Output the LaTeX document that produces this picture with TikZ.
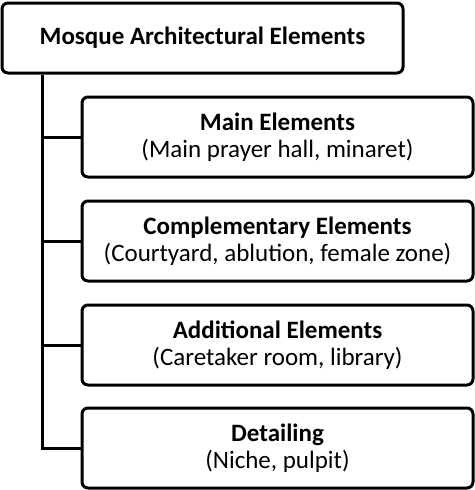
\documentclass[tikz,border=0pt]{standalone}
\usepackage{fontspec}
\setmainfont{Carlito}
\begin{document}
\begin{tikzpicture}[x=1pt,y=-1pt,
  box/.style={draw,line width=3pt,rounded corners=6pt,fill=white,align=center,inner sep=0pt,font=\fontsize{25}{27.5}\selectfont},
  link/.style={line width=3pt}]
\useasboundingbox (0,0) rectangle (474,490);
\node[box,minimum width=401pt,minimum height=70pt,font=\fontsize{25}{27.5}\selectfont\bfseries] (top) at (202.5,38) {Mosque Architectural Elements};
\node[box,minimum width=391pt,minimum height=80pt] (b1) at (277.5,137) {\textbf{Main Elements}\\(Main prayer hall, minaret)};
\node[box,minimum width=391pt,minimum height=80pt] (b2) at (277.5,241) {\textbf{Complementary Elements}\\(Courtyard, ablution, female zone)};
\node[box,minimum width=391pt,minimum height=80pt] (b3) at (277.5,345) {\textbf{Additional Elements}\\(Caretaker room, library)};
\node[box,minimum width=391pt,minimum height=80pt] (b4) at (277.5,448) {\textbf{Detailing}\\(Niche, pulpit)};
\coordinate (trunk) at (42,0);
\draw[link] (top.south -| trunk) |- (b4.west);
\draw[link] (b1.west) -- (b1.west -| trunk);
\draw[link] (b2.west) -- (b2.west -| trunk);
\draw[link] (b3.west) -- (b3.west -| trunk);
\end{tikzpicture}
\end{document}
